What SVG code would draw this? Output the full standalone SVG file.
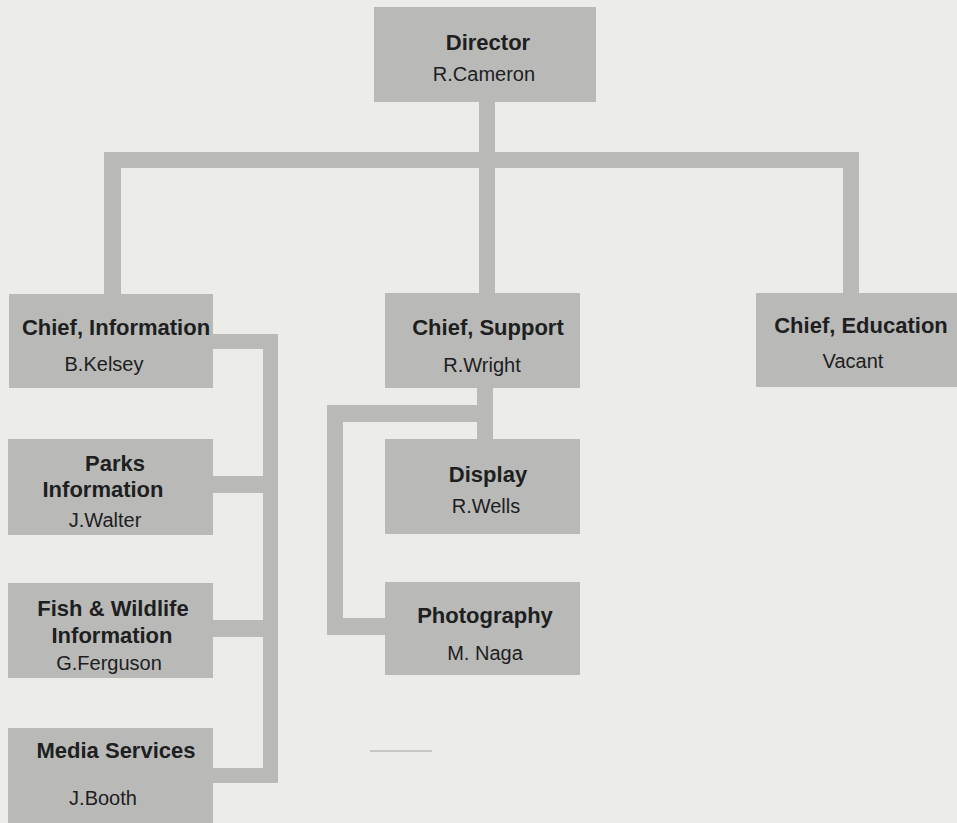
<svg xmlns="http://www.w3.org/2000/svg" width="957" height="823" viewBox="0 0 957 823">
  <style>
    .bg { fill: #ecede8; }
    .box { fill: #b9bab7; }
    .conn rect { fill: #b9bab7; }
    .t { font-family: "Liberation Sans", Arial, Helvetica, sans-serif; font-weight: bold; font-size: 22px; fill: #1d201f; text-anchor: middle; }
    .n { font-family: "Liberation Sans", Arial, Helvetica, sans-serif; font-size: 20px; fill: #1d201f; text-anchor: middle; }
  </style>
  <rect class="bg" x="0" y="0" width="957" height="823"/>

  <g id="connectors" class="conn">
    <!-- Director to chiefs -->
    <rect x="479" y="100" width="16" height="54"/>
    <rect x="104" y="152" width="755" height="16"/>
    <rect x="104" y="152" width="17" height="143"/>
    <rect x="479" y="152" width="16" height="143"/>
    <rect x="843" y="152" width="16" height="143"/>
    <!-- Chief, Information to its units -->
    <rect x="211" y="334" width="67" height="15"/>
    <rect x="263" y="334" width="15" height="449"/>
    <rect x="211" y="476" width="54" height="17"/>
    <rect x="211" y="620" width="54" height="17"/>
    <rect x="211" y="768" width="54" height="15"/>
    <!-- Chief, Support to its units -->
    <rect x="477" y="386" width="16" height="55"/>
    <rect x="327" y="405" width="166" height="17"/>
    <rect x="327" y="405" width="16" height="230"/>
    <rect x="327" y="618" width="60" height="17"/>
  </g>

  <g id="director">
    <rect class="box" x="374" y="7" width="222" height="95"/>
    <text class="t" x="488" y="50">Director</text>
    <text class="n" x="484" y="81">R.Cameron</text>
  </g>

  <g id="chief-information">
    <rect class="box" x="9" y="294" width="204" height="94"/>
    <text class="t" x="116" y="335">Chief, Information</text>
    <text class="n" x="104" y="371">B.Kelsey</text>
  </g>

  <g id="chief-support">
    <rect class="box" x="385" y="293" width="195" height="95"/>
    <text class="t" x="488" y="335">Chief, Support</text>
    <text class="n" x="482" y="372">R.Wright</text>
  </g>

  <g id="chief-education">
    <rect class="box" x="756" y="293" width="201" height="94"/>
    <text class="t" x="861" y="333">Chief, Education</text>
    <text class="n" x="853" y="368">Vacant</text>
  </g>

  <g id="parks-information">
    <rect class="box" x="8" y="439" width="205" height="96"/>
    <text class="t" x="115" y="471">Parks</text>
    <text class="t" x="103" y="497">Information</text>
    <text class="n" x="105" y="527">J.Walter</text>
  </g>

  <g id="fish-wildlife-information">
    <rect class="box" x="8" y="583" width="205" height="95"/>
    <text class="t" x="113" y="616">Fish &amp; Wildlife</text>
    <text class="t" x="112" y="643">Information</text>
    <text class="n" x="109" y="670">G.Ferguson</text>
  </g>

  <g id="media-services">
    <rect class="box" x="8" y="728" width="205" height="95"/>
    <text class="t" x="116" y="758">Media Services</text>
    <text class="n" x="103" y="805">J.Booth</text>
  </g>

  <g id="display">
    <rect class="box" x="385" y="439" width="195" height="95"/>
    <text class="t" x="488" y="482">Display</text>
    <text class="n" x="486" y="513">R.Wells</text>
  </g>

  <g id="photography">
    <rect class="box" x="385" y="582" width="195" height="93"/>
    <text class="t" x="485" y="623">Photography</text>
    <text class="n" x="485" y="660">M. Naga</text>
  </g>

  <line x1="370" y1="751" x2="432" y2="751" stroke="#a3a4a1" stroke-width="1.2"/>
</svg>
